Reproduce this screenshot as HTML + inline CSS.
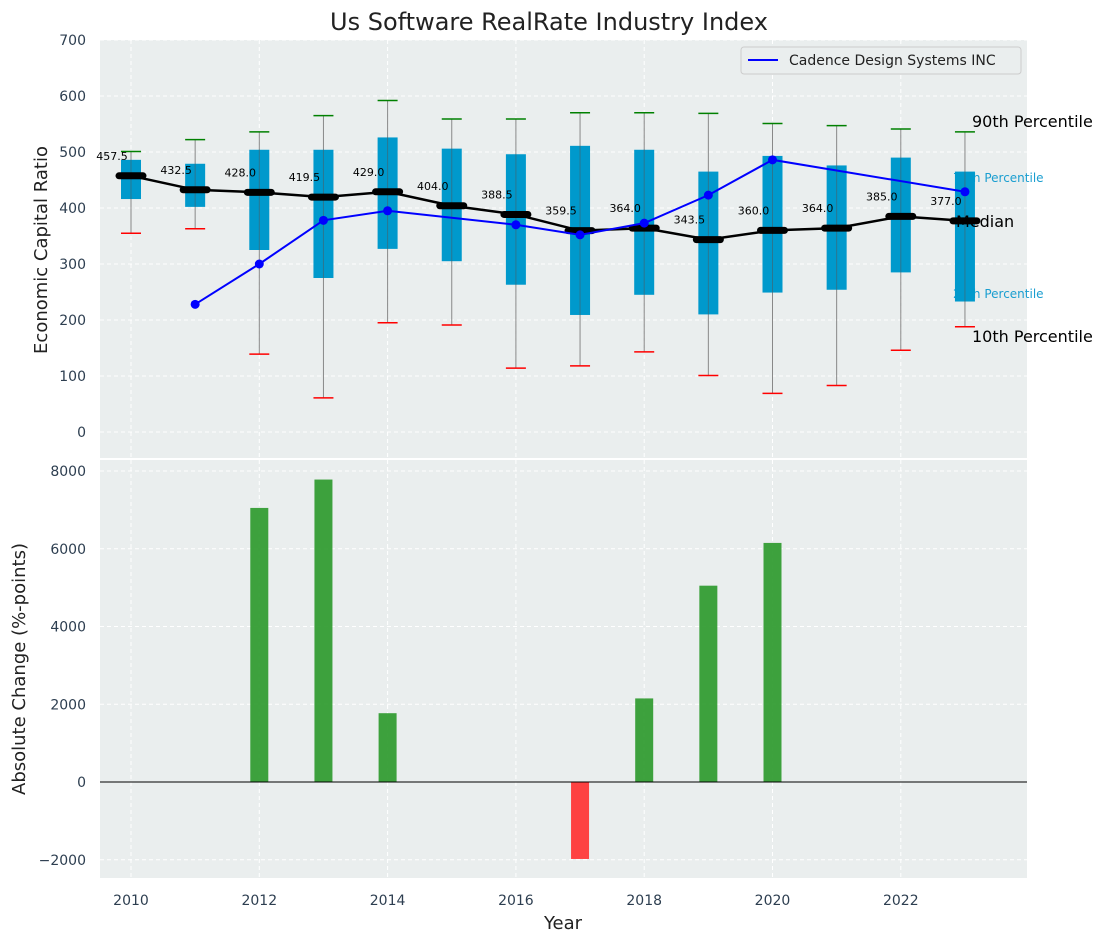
<!DOCTYPE html>
<html><head><meta charset="utf-8"><style>
body{margin:0;background:#fff;font-family:"Liberation Sans","DejaVu Sans",sans-serif}
svg text{font-family:"DejaVu Sans","Liberation Sans",sans-serif}
</style></head><body>
<svg id="c" width="1107" height="942" xmlns="http://www.w3.org/2000/svg"></svg>
<script>
const years=[2010,2011,2012,2013,2014,2015,2016,2017,2018,2019,2020,2021,2022,2023];
const p10=[355,363,139,61,195,191,114,118,143,101,69,83,146,188];
const q1=[416,402,325,275,327,305,263,209,245,210,249,254,285,233];
const q3=[486,479,504,504,526,506,496,511,504,465,493,476,490,465];
const p90=[501,522,536,565,592,559,559,570,570,569,551,547,541,536];
const medians=[457.5,432.5,428.0,419.5,429.0,404.0,388.5,359.5,364.0,343.5,360.0,364.0,385.0,377.0];
const cadYears=[2011,2012,2013,2014,2016,2017,2018,2019,2020,2023];
const cadVals=[228,300,378,395,370,352,373,423,486,429];
const chgYears=[2012,2013,2014,2017,2018,2019,2020];
const chgVals=[7050,7780,1770,-1980,2150,5050,6150];
const topTicks=[0,100,200,300,400,500,600,700];
const botTicks=[-2000,0,2000,4000,6000,8000];
const xTicks=[2010,2012,2014,2016,2018,2020,2022];

const svg=document.getElementById('c');const NS='http://www.w3.org/2000/svg';
function el(t,a,txt){const e=document.createElementNS(NS,t);for(const k in a)e.setAttribute(k,a[k]);if(txt!==undefined)e.textContent=txt;svg.appendChild(e);return e;}
const X=v=>131+(v-2010)*64.15;
const Y1=v=>432-v*0.56;
const Y2=v=>782-v*(311/8000);
const L=100,R=1027;
let e=el('rect',{x:L,y:40,width:R-L,height:418,fill:'#eaeeee'});

e=el('rect',{x:L,y:460,width:R-L,height:418,fill:'#eaeeee'});

xTicks.forEach(t=>{
 el('line',{x1:X(t),x2:X(t),y1:40,y2:458,stroke:'#fff','stroke-dasharray':'4,3','stroke-width':1});
 el('line',{x1:X(t),x2:X(t),y1:460,y2:878,stroke:'#fff','stroke-dasharray':'4,3','stroke-width':1});
 e=el('text',{x:X(t),y:905,'text-anchor':'middle','font-size':14,fill:'#2d3e50'},t);
 
});
topTicks.forEach(t=>{
 el('line',{x1:L,x2:R,y1:Y1(t),y2:Y1(t),stroke:'#fff','stroke-dasharray':'4,3'});
 e=el('text',{x:86,y:Y1(t)+5,'text-anchor':'end','font-size':14,fill:'#2d3e50'},t);
 
});
botTicks.forEach(t=>{
 el('line',{x1:L,x2:R,y1:Y2(t),y2:Y2(t),stroke:'#fff','stroke-dasharray':'4,3'});
 e=el('text',{x:86,y:Y2(t)+5,'text-anchor':'end','font-size':14,fill:'#2d3e50'},t<0?'\u2212'+(-t):t);
 
});
e=el('text',{x:X(2023)-12,y:182,'font-size':12,fill:'#1a9ed0'},'75th Percentile');

e=el('text',{x:X(2023)-12,y:298,'font-size':12,fill:'#1a9ed0'},'25th Percentile');

years.forEach((yr,i)=>{
 const x=X(yr);
 e=el('line',{x1:x,x2:x,y1:Y1(p10[i]),y2:Y1(p90[i]),stroke:'#888','stroke-width':1});
 
 e=el('rect',{x:x-10,y:Y1(q3[i]),width:20,height:Y1(q1[i])-Y1(q3[i]),fill:'#0099cc'});
 
 el('line',{x1:x,x2:x,y1:Y1(q3[i]),y2:Y1(q1[i]),stroke:'#555','stroke-width':1,opacity:0.5});
 e=el('line',{x1:x-10,x2:x+10,y1:Y1(p90[i]),y2:Y1(p90[i]),stroke:'green','stroke-width':1.5});
 
 e=el('line',{x1:x-10,x2:x+10,y1:Y1(p10[i]),y2:Y1(p10[i]),stroke:'red','stroke-width':1.5});
 
});
e=el('polyline',{points:years.map((yr,i)=>X(yr)+','+Y1(medians[i])).join(' '),fill:'none',stroke:'#000','stroke-width':2.5});

years.forEach((yr,i)=>{
 e=el('line',{x1:X(yr)-12,x2:X(yr)+12,y1:Y1(medians[i]),y2:Y1(medians[i]),stroke:'#000','stroke-width':7,'stroke-linecap':'round'});
 
 e=el('text',{x:X(yr)-19,y:Y1(medians[i])-16,'text-anchor':'middle','font-size':11,fill:'#000'},medians[i].toFixed(1));
 
});
e=el('polyline',{points:cadYears.map((yr,i)=>X(yr)+','+Y1(cadVals[i])).join(' '),fill:'none',stroke:'#0000ff','stroke-width':2});

cadYears.forEach((yr,i)=>{
 e=el('circle',{cx:X(yr),cy:Y1(cadVals[i]),r:4.5,fill:'#0000ff'});
 
});
[['90th Percentile',972,127,'p90-label'],['Median',956,227,'median-label'],['10th Percentile',972,342,'p10-label']].forEach(a=>{
 e=el('text',{x:a[1],y:a[2],'font-size':16,fill:'#000'},a[0]);
 
});
e=el('rect',{x:741,y:47,width:280,height:27,fill:'#eaeeee',stroke:'#ccc',rx:3});

el('line',{x1:748,x2:778,y1:60,y2:60,stroke:'#0000ff','stroke-width':2});
e=el('text',{x:789,y:65,'font-size':14,fill:'#222'},'Cadence Design Systems INC');

chgYears.forEach((yr,i)=>{
 const v=chgVals[i];const y0=Y2(0),y1=Y2(v);
 e=el('rect',{x:X(yr)-9,y:Math.min(y0,y1),width:18,height:Math.abs(y1-y0),fill:v>=0?'#2e9a2e':'#ff3333',opacity:0.92});
 
});
e=el('line',{x1:L,x2:R,y1:Y2(0),y2:Y2(0),stroke:'#000','stroke-width':1});

e=el('text',{x:549,y:30,'text-anchor':'middle','font-size':24,fill:'#222'},'Us Software RealRate Industry Index');

e=el('text',{x:563,y:929,'text-anchor':'middle','font-size':18,fill:'#222'},'Year');

e=el('text',{x:0,y:0,'text-anchor':'middle','font-size':18,fill:'#222',transform:'translate(47,250) rotate(-90)'},'Economic Capital Ratio');

e=el('text',{x:0,y:0,'text-anchor':'middle','font-size':18,fill:'#222',transform:'translate(25,669) rotate(-90)'},'Absolute Change (%-points)');

</script>
</body></html>
